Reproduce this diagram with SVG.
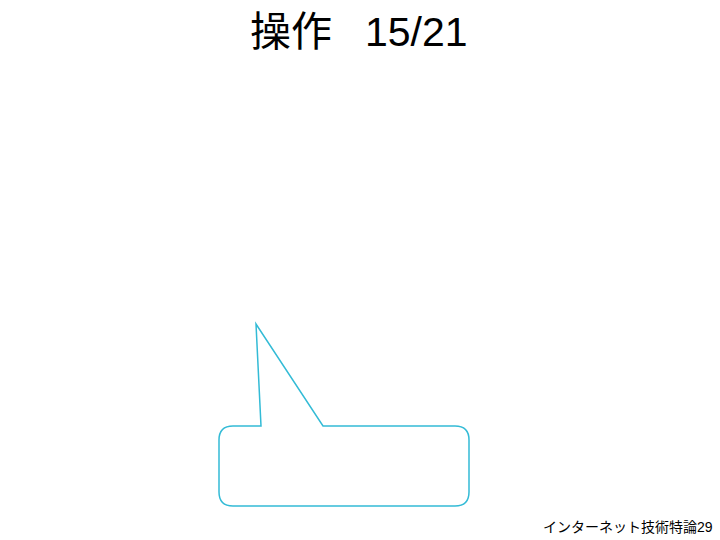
<svg xmlns="http://www.w3.org/2000/svg" width="720" height="540" viewBox="0 0 720 540">
<style>
.t{font-family:"Liberation Sans","Noto Sans CJK JP",sans-serif;fill:#000}
.c{fill:none;stroke:#33bbd6;stroke-width:1.5;stroke-linejoin:miter}
</style>
<rect width="720" height="540" fill="#fff"/>
<text class="t" x="250" y="46" font-size="41"><tspan>操作</tspan><tspan x="365">15/21</tspan></text>
<g id="callout">
<path class="c" d="M261,426 L256,324 L323,426 L455,426 Q469,426 469,440 L469,492 Q469,506 455,506 L233,506 Q219,506 219,492 L219,440 Q219,426 233,426 Z"/>
</g>
<text class="t" x="543" y="532" font-size="14">インターネット技術特論29</text>
</svg>
